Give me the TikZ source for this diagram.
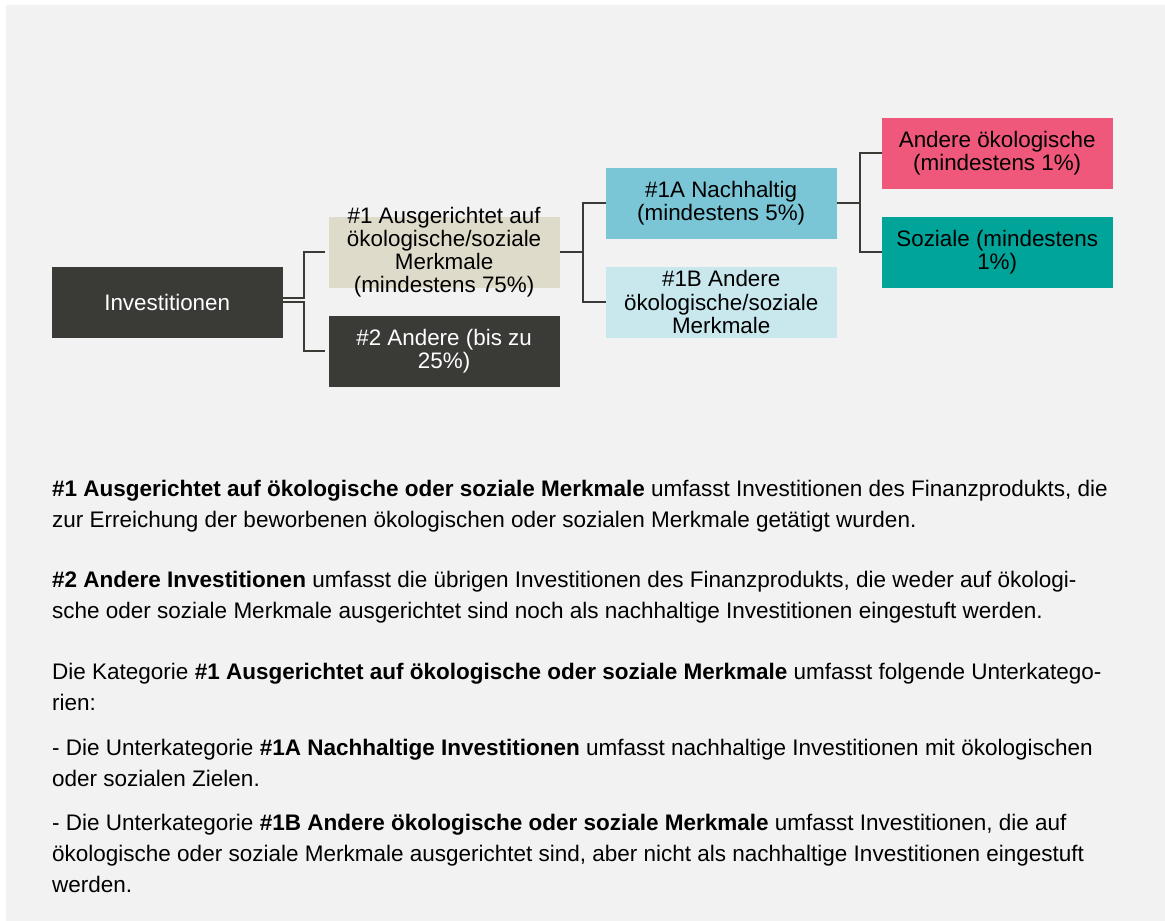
\documentclass[tikz,border=0pt]{standalone}
\usepackage{fontspec}
\setmainfont{Liberation Sans}
\usetikzlibrary{positioning}

\definecolor{bggray}{HTML}{F2F2F2}
\definecolor{darkbox}{HTML}{3A3B37}
\definecolor{beige}{HTML}{DFDBCB}
\definecolor{nachblue}{HTML}{7BC6D6}
\definecolor{paleblue}{HTML}{C9E8EE}
\definecolor{envpink}{HTML}{F0587B}
\definecolor{socteal}{HTML}{00A499}

\begin{document}
\begin{tikzpicture}[x=1pt, y=-1pt,
    box/.style={rectangle, minimum width=231pt, minimum height=71pt, inner sep=0pt,
      align=center, font=\fontsize{22.4}{23.3}\selectfont},
    boxtext/.style={inner sep=0pt, align=center, font=\fontsize{22.4}{23.3}\selectfont},
    link/.style={draw=darkbox, line width=1.8pt},
    para/.style={anchor=base west, align=left, inner sep=0pt,
      font=\fontsize{22.5}{30.7}\selectfont}]
    \useasboundingbox (0,0) rectangle (1165,921);
    \fill[white] (0,0) rectangle (1165,921);
    \fill[bggray] (6,5) rectangle (1165,921);

    % Tree boxes
    \node[box, fill=darkbox, text=white] (inv) at (167.2,302.2) {Investitionen};
    \node[box, fill=beige] (aligned) at (444.1,252.2) {};
    \node[boxtext] (alignedtxt) at (aligned) {\#1 Ausgerichtet auf\\ökologische/soziale\\Merkmale\\(mindestens 75\%)};
    \node[box, fill=darkbox, text=white] (other) at (444.1,351.3) {\#2 Andere (bis zu\\25\%)};
    \node[box, fill=nachblue] (sust) at (721.2,203.3) {\#1A Nachhaltig\\(mindestens 5\%)};
    \node[box, fill=paleblue] (otherchar) at (721.2,302.2) {\#1B Andere\\ökologische/soziale\\Merkmale};
    \node[box, fill=envpink] (env) at (997.2,153.3) {Andere ökologische\\(mindestens 1\%)};
    \node[box, fill=socteal] (soc) at (997.2,252.3) {Soziale (mindestens\\1\%)};

    % Connectors
    \draw[link] ([yshift=3.9pt]inv.east) -- ++(21.3,0) |- ([xshift=-3.7pt]aligned.west);
    \draw[link] ([yshift=0.2pt]inv.east) -- ++(21.3,0) |- ([xshift=-3.7pt]other.west);
    \draw[link] (aligned.east) -- ++(23.3,0) |- (sust.west);
    \draw[link] (aligned.east) -- ++(23.3,0) |- (otherchar.west);
    \draw[link] (sust.east) -- ++(22.9,0) |- (env.west);
    \draw[link] (sust.east) -- ++(22.9,0) |- (soc.west);

    % Explanations (anchored at the last line)
    \node[para] (p1) at (52,527) {\textbf{\#1 Ausgerichtet auf ökologische oder soziale Merkmale} umfasst Investitionen des Finanzprodukts, die\\
      zur Erreichung der beworbenen ökologischen oder sozialen Merkmale getätigt wurden.};
    \node[para] (p2) at (52,618) {\textbf{\#2 Andere Investitionen} umfasst die übrigen Investitionen des Finanzprodukts, die weder auf ökologi-\\
      sche oder soziale Merkmale ausgerichtet sind noch als nachhaltige Investitionen eingestuft werden.};
    \node[para] (p3) at (52,710) {Die Kategorie \textbf{\#1 Ausgerichtet auf ökologische oder soziale Merkmale} umfasst folgende Unterkatego-\\
      rien:};
    \node[para] (p4) at (52,786) {- Die Unterkategorie \textbf{\#1A Nachhaltige Investitionen} umfasst nachhaltige Investitionen mit ökologischen\\
      oder sozialen Zielen.};
    \node[para] (p5) at (52,892) {- Die Unterkategorie \textbf{\#1B Andere ökologische oder soziale Merkmale} umfasst Investitionen, die auf\\
      ökologische oder soziale Merkmale ausgerichtet sind, aber nicht als nachhaltige Investitionen eingestuft\\
      werden.};
\end{tikzpicture}
\end{document}
